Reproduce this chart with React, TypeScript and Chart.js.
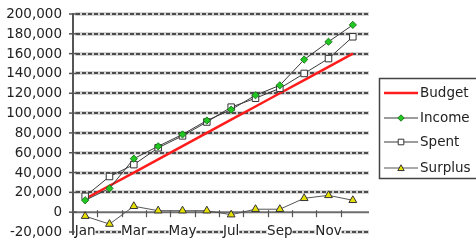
import React, { useEffect, useRef } from 'react';
import { Chart, registerables } from 'chart.js';

Chart.register(...registerables);

const months = ['Jan', 'Feb', 'Mar', 'Apr', 'May', 'Jun', 'Jul', 'Aug', 'Sep', 'Oct', 'Nov', 'Dec'];
const budget = [13333, 26667, 40000, 53333, 66667, 80000, 93333, 106667, 120000, 133333, 146667, 160000];
const income = [12000, 24000, 54000, 66500, 78500, 92500, 103500, 118000, 128000, 154000, 172000, 189000];
const spent = [16000, 36000, 48000, 65000, 77000, 91000, 106000, 115000, 125000, 140000, 155000, 177000];
const surplus = [-4000, -12000, 6000, 1500, 1500, 1500, -2500, 3000, 3000, 14000, 17000, 12000];
const seriesNames = ['Budget', 'Income', 'Spent', 'Surplus'];
const yMin = -20000;
const yMax = 200000;
const gridValues: number[] = [-20000, 20000, 40000, 60000, 80000, 100000, 120000, 140000, 160000, 180000, 200000];
const labelValues: number[] = [-20000, 0, 20000, 40000, 60000, 80000, 100000, 120000, 140000, 160000, 180000, 200000];

const FONT = '13.5px "DejaVu Sans"';
const TEXT = '#222';

function marker(ctx: CanvasRenderingContext2D, kind: string, x: number, y: number, r: number, fill: string, stroke: string) {
  ctx.save();
  ctx.beginPath();
  if (kind === 'rectRot') {
    ctx.moveTo(x, y - r); ctx.lineTo(x + r, y); ctx.lineTo(x, y + r); ctx.lineTo(x - r, y); ctx.closePath();
  } else if (kind === 'rect') {
    ctx.rect(x - r, y - r, 2 * r, 2 * r);
  } else if (kind === 'triangle') {
    ctx.moveTo(x, y - r); ctx.lineTo(x + r, y + r * 0.8); ctx.lineTo(x - r, y + r * 0.8); ctx.closePath();
  }
  ctx.fillStyle = fill; ctx.fill();
  ctx.strokeStyle = stroke; ctx.lineWidth = 1; ctx.stroke();
  ctx.restore();
}

function seg(ctx: CanvasRenderingContext2D, x1: number, y1: number, x2: number, y2: number) {
  ctx.beginPath(); ctx.moveTo(x1, y1); ctx.lineTo(x2, y2); ctx.stroke();
}

const axes = {
  id: 'axes',
  beforeDatasetsDraw(chart: any) {
    const ctx: CanvasRenderingContext2D = chart.ctx;
    const xs = chart.scales.x, ys = chart.scales.y;
    const L = xs.getPixelForValue(-0.5);
    const R = xs.getPixelForValue(months.length - 0.5);
    const T = ys.getPixelForValue(yMax);
    const B = ys.getPixelForValue(yMin);
    ctx.save();
    // dashed horizontal grid: soft halo then dark dash core
    for (let k = 0; k < gridValues.length; k++) {
      const py = Math.round(ys.getPixelForValue(gridValues[k]));
      for (let x = Math.round(L) + 3; x < R + 5; x += 6) {
        ctx.fillStyle = '#d4d4d4';
        ctx.fillRect(x - 1, py - 2, 6, 4);
      }
      for (let x = Math.round(L) + 3; x < R + 5; x += 6) {
        ctx.fillStyle = '#4c4c4c';
        ctx.fillRect(x, py - 1, 4, 2);
      }
    }
    // zero line
    const y0 = ys.getPixelForValue(0);
    ctx.strokeStyle = '#6e6e6e'; ctx.lineWidth = 2;
    seg(ctx, L, y0, R + 4, y0);
    // category tick marks on the zero line
    ctx.strokeStyle = '#555'; ctx.lineWidth = 1.2;
    for (let i = 1; i < months.length; i++) {
      const px = Math.round(xs.getPixelForValue(i - 0.5)) + 0.5;
      seg(ctx, px, y0 - 2, px, y0 + 5);
    }
    // y axis line + crossing ticks + labels
    ctx.strokeStyle = '#555'; ctx.lineWidth = 2;
    seg(ctx, L, T - 1, L, B + 3);
    ctx.lineWidth = 1.5;
    ctx.font = FONT; ctx.fillStyle = TEXT; ctx.textAlign = 'right'; ctx.textBaseline = 'middle';
    labelValues.forEach((v) => {
      const py = ys.getPixelForValue(v);
      seg(ctx, L - 4, py, L + 4, py);
      ctx.fillText(v.toLocaleString('en-US'), L - 11, py + 0.5);
    });
    ctx.restore();
  },
  afterDatasetsDraw(chart: any) {
    const ctx: CanvasRenderingContext2D = chart.ctx;
    const xs = chart.scales.x, ys = chart.scales.y;
    ctx.save();
    // x labels over the bottom grid line
    ctx.font = FONT; ctx.textAlign = 'center'; ctx.textBaseline = 'middle';
    const yl = ys.getPixelForValue(yMin) - 1;
    months.forEach((m, i) => {
      if (i % 2 !== 0) return;
      const px = xs.getPixelForValue(i);
      const w = ctx.measureText(m).width;
      ctx.fillStyle = '#fff';
      ctx.fillRect(px - w / 2, yl - 4, w, 8);
      ctx.fillStyle = TEXT;
      ctx.fillText(m, px, yl);
    });
    // legend
    ctx.strokeStyle = '#444'; ctx.lineWidth = 1.5;
    ctx.strokeRect(379.5, 78.5, 110, 100);
    const rows = [93, 118, 142, 168];
    chart.data.datasets.forEach((ds: any, i: number) => {
      const ry = rows[i];
      ctx.strokeStyle = ds.borderColor; ctx.lineWidth = ds.borderWidth;
      seg(ctx, 384, ry, 418, ry);
      if (ds.pointRadius > 0) {
        marker(ctx, ds.pointStyle, 401, ry, ds.pointStyle === 'rect' ? 2.8 : 3.2, ds.pointBackgroundColor, ds.pointBorderColor);
      }
      ctx.fillStyle = TEXT; ctx.font = FONT; ctx.textAlign = 'left'; ctx.textBaseline = 'middle';
      ctx.fillText(ds.label, 420, ry);
    });
    ctx.restore();
  },
};

export default function App() {
  const ref = useRef<HTMLCanvasElement | null>(null);
  useEffect(() => {
    document.body.style.margin = '0';
    const canvas = ref.current!;
    const chart = new Chart(canvas, {
      type: 'line',
      data: {
        labels: months,
        datasets: [
          { label: seriesNames[0], data: budget, borderColor: '#ff1c1c', borderWidth: 2.5, pointRadius: 0, pointStyle: 'circle', pointBackgroundColor: '#ff1c1c', pointBorderColor: '#ff1c1c', order: 3 },
          { label: seriesNames[1], data: income, borderColor: '#3a3a3a', borderWidth: 1, pointRadius: 3.6, pointStyle: 'rectRot', pointBackgroundColor: '#22c822', pointBorderColor: '#1d7a1d', pointBorderWidth: 1, order: 0 },
          { label: seriesNames[2], data: spent, borderColor: '#3a3a3a', borderWidth: 1, pointRadius: 4.6, pointStyle: 'rect', pointBackgroundColor: '#ffffff', pointBorderColor: '#333', pointBorderWidth: 1, order: 1 },
          { label: seriesNames[3], data: surplus, borderColor: '#555', borderWidth: 1, pointRadius: 4.5, pointStyle: 'triangle', pointBackgroundColor: '#e6e000', pointBorderColor: '#333', pointBorderWidth: 1, order: 2 },
        ],
      },
      options: {
        animation: false,
        responsive: false,
        maintainAspectRatio: false,
        devicePixelRatio: 1,
        layout: { padding: { left: 73, right: 111, top: 14, bottom: 9 } },
        plugins: { legend: { display: false }, tooltip: { enabled: false } },
        scales: {
          x: { type: 'category', display: false, offset: true },
          y: { display: false, min: yMin, max: yMax },
        },
      },
      plugins: [axes],
    });
    return () => chart.destroy();
  }, []);
  return (
    <div style={{ width: 476, height: 241 }}>
      <canvas ref={ref} width={476} height={241} style={{ display: 'block', width: 476, height: 241 }} />
    </div>
  );
}
